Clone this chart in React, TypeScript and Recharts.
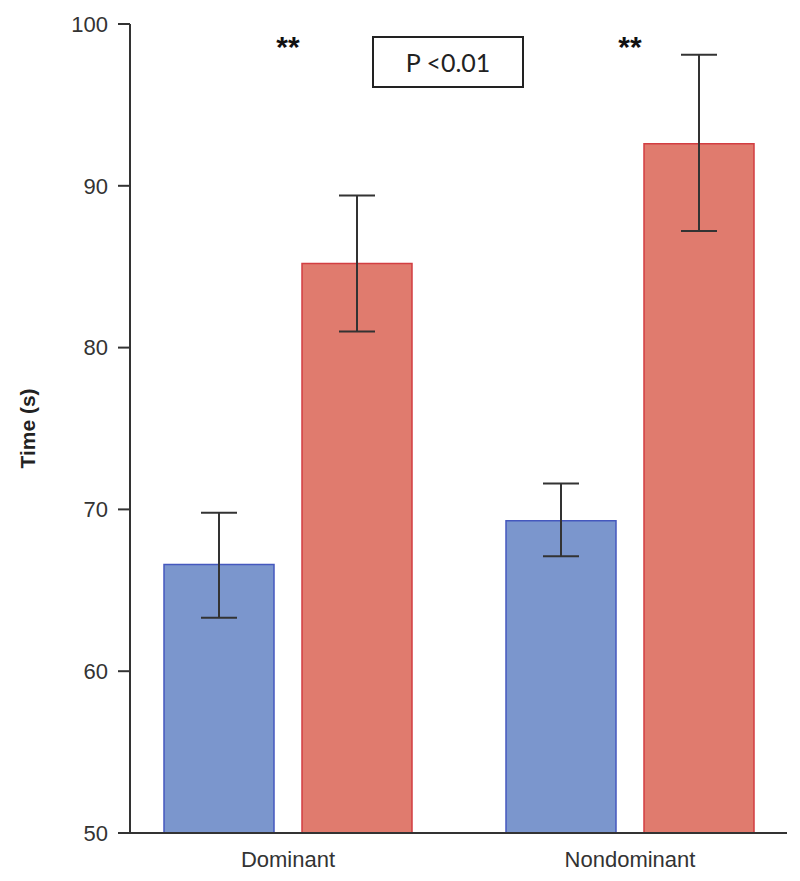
import { BarChart, Bar, XAxis, YAxis, ErrorBar, ReferenceDot } from 'recharts';

// values
const categories = ['Dominant', 'Nondominant'];
const blueValues = [66.6, 69.3];
const blueErrors = [[3.3, 3.2], [2.2, 2.3]];
const redValues = [85.2, 92.6];
const redErrors = [[4.2, 4.2], [5.4, 5.5]];
const yTicks = [50, 60, 70, 80, 90, 100];
const starLabel = '**';
const pLabel = 'P <0.01';

const data = categories.map((name, i) => ({
  name,
  blue: blueValues[i],
  blueErr: blueErrors[i],
  red: redValues[i],
  redErr: redErrors[i],
}));

const AXIS = '#333';

export default function App() {
  return (
    <div style={{ position: 'relative', width: 792, height: 873, fontFamily: '"Liberation Sans", Arial, sans-serif' }}>
      <BarChart
        width={792}
        height={873}
        data={data}
        margin={{ top: 16, right: 13, bottom: 6, left: 62 }}
        barSize={110}
        barGap={28}
      >
        <XAxis
          dataKey="name"
          padding={{ left: -13, right: -14 }}
          axisLine={{ stroke: AXIS, strokeWidth: 2 }}
          tickLine={false}
          tick={{ fill: '#333', fontSize: 22 }}
          tickMargin={12}
          height={42}
        />
        <YAxis
          domain={[50, 100]}
          ticks={yTicks}
          allowDataOverflow
          width={60}
          axisLine={{ stroke: AXIS, strokeWidth: 2 }}
          tickLine={{ stroke: AXIS, strokeWidth: 2 }}
          tickSize={12}
          tickMargin={10}
          tick={{ fill: '#333', fontSize: 22 }}
          label={{ value: 'Time (s)', angle: -90, position: 'insideLeft', offset: -42, style: { fill: '#222', fontSize: 21, fontWeight: 'bold', textAnchor: 'middle' } }}
        />
        <Bar dataKey="blue" fill="#7B96CD" stroke="#4558BE" strokeWidth={1.5} isAnimationActive={false}>
          <ErrorBar dataKey="blueErr" width={18} stroke={AXIS} strokeWidth={2} direction="y" />
        </Bar>
        <Bar dataKey="red" fill="#E07B6E" stroke="#D23E42" strokeWidth={1.5} isAnimationActive={false}>
          <ErrorBar dataKey="redErr" width={18} stroke={AXIS} strokeWidth={2} direction="y" />
        </Bar>
        {categories.map((c) => (
          <ReferenceDot
            key={c}
            x={c}
            y={98.6}
            r={0}
            fill="none"
            stroke="none"
            label={{ value: starLabel, position: 'center', style: { fontSize: 30, fontWeight: 'bold', fill: '#111' } }}
          />
        ))}
      </BarChart>
      <div
        style={{
          position: 'absolute',
          left: 364,
          top: 28,
          width: 148,
          height: 48,
          border: '2px solid #222',
          display: 'flex',
          alignItems: 'center',
          justifyContent: 'center',
          fontFamily: 'Lato, "Open Sans", sans-serif',
          fontSize: 25,
          color: '#222',
        }}
      >
        {pLabel}
      </div>
    </div>
  );
}
